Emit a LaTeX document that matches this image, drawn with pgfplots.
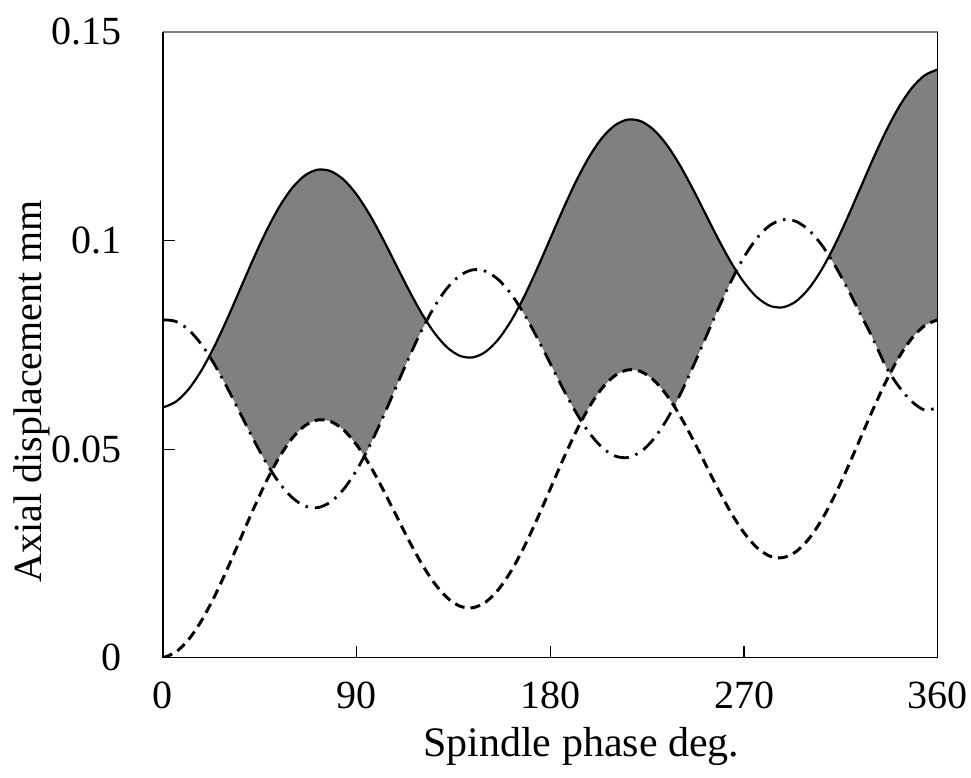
\documentclass[border=0pt]{standalone}
\usepackage{fontspec}
\setmainfont{Liberation Serif}
\usepackage{pgfplots}
\usepackage{pgfplotstable}
\pgfplotsset{compat=1.18}
\usepgfplotslibrary{fillbetween}
\pgfplotstableread{
x D S DD
0 0 0.06 0.081
6 0.00137 0.06137 0.08063
12 0.00442 0.06442 0.07858
18 0.00897 0.06897 0.07503
24 0.01475 0.07475 0.07025
30 0.0214 0.0814 0.0646
36 0.0285 0.0885 0.0585
42 0.0356 0.0956 0.0524
48 0.04225 0.10225 0.04675
54 0.04803 0.10803 0.04197
60 0.05258 0.11258 0.03842
66 0.05563 0.11563 0.03637
72 0.057 0.117 0.036
78 0.05663 0.11663 0.03737
84 0.05458 0.11458 0.04042
90 0.05103 0.11103 0.04497
96 0.04625 0.10625 0.05075
102 0.0406 0.1006 0.0574
108 0.0345 0.0945 0.0645
114 0.0284 0.0884 0.0716
120 0.02275 0.08275 0.07825
126 0.01797 0.07797 0.08403
132 0.01442 0.07442 0.08858
138 0.01237 0.07237 0.09163
144 0.012 0.072 0.093
150 0.01337 0.07337 0.09263
156 0.01642 0.07642 0.09058
162 0.02097 0.08097 0.08703
168 0.02675 0.08675 0.08225
174 0.0334 0.0934 0.0766
180 0.0405 0.1005 0.0705
186 0.0476 0.1076 0.0644
192 0.05425 0.11425 0.05875
198 0.06003 0.12003 0.05397
204 0.06458 0.12458 0.05042
210 0.06763 0.12763 0.04837
216 0.069 0.129 0.048
222 0.06863 0.12863 0.04937
228 0.06658 0.12658 0.05242
234 0.06303 0.12303 0.05697
240 0.05825 0.11825 0.06275
246 0.0526 0.1126 0.0694
252 0.0465 0.1065 0.0765
258 0.0404 0.1004 0.0836
264 0.03475 0.09475 0.09025
270 0.02997 0.08997 0.09603
276 0.02642 0.08642 0.10058
282 0.02437 0.08437 0.10363
288 0.024 0.084 0.105
294 0.02537 0.08537 0.10463
300 0.02842 0.08842 0.10258
306 0.03297 0.09297 0.09903
312 0.03875 0.09875 0.09425
318 0.0454 0.1054 0.0886
324 0.0525 0.1125 0.0825
330 0.0596 0.1196 0.0764
336 0.06625 0.12625 0.06975
342 0.07203 0.13203 0.06497
348 0.07658 0.13658 0.06142
354 0.07963 0.13963 0.05937
360 0.081 0.141 0.06
}\datatable
\begin{document}
\begin{tikzpicture}
\begin{axis}[
  scale only axis,
  width=775pt, height=626pt,
  xmin=0, xmax=360, ymin=0, ymax=0.15,
  axis line style={draw=none},
  xtick={0,90,180,270,360},
  xticklabels={0,90,180,270,360},
  ytick={0,0.05,0.1},
  yticklabels={0,0.05,0.1},
  extra y ticks={0.15},
  extra y tick labels={0.15},
  extra y tick style={major tick length=0pt},
  xtick pos=bottom, ytick pos=left,
  tick align=inside,
  major tick length=12pt,
  every tick/.style={black, line width=1.2pt},
  /pgf/number format/assume math mode=true,
  ticklabel style={font=\fontsize{40}{48}\selectfont},
  xticklabel style={yshift=-21pt},
  yticklabel style={xshift=-38pt},
  xlabel={Spindle phase deg.},
  ylabel={Axial displacement mm},
  xlabel style={font=\fontsize{42}{50}\selectfont, at={(axis description cs:0.54,-0.158)}, anchor=base},
  ylabel style={font=\fontsize{40}{48}\selectfont, at={(axis description cs:-0.169,0.4257)}, anchor=center},
]
\addplot[name path=S, black, line width=2.2pt, smooth] table[x=x,y=S]{\datatable};
\addplot[name path=D, black, line width=3pt, dash pattern=on 10pt off 6pt, smooth] table[x=x,y=D]{\datatable};
\addplot[name path=DD, black, line width=2.8pt, dash pattern=on 15pt off 7pt on 2.5pt off 7pt, smooth] table[x=x,y=DD]{\datatable};
\addplot[fill=gray, draw=none] fill between[of=S and DD, soft clip={domain=21.6:50.6}];
\addplot[fill=gray, draw=none] fill between[of=S and D, soft clip={domain=50.3:93.8}];
\addplot[fill=gray, draw=none] fill between[of=S and DD, soft clip={domain=93.5:122.4}];
\addplot[fill=gray, draw=none] fill between[of=S and DD, soft clip={domain=165.6:194.6}];
\addplot[fill=gray, draw=none] fill between[of=S and D, soft clip={domain=194.3:237.8}];
\addplot[fill=gray, draw=none] fill between[of=S and DD, soft clip={domain=237.5:266.4}];
\addplot[fill=gray, draw=none] fill between[of=S and DD, soft clip={domain=309.6:338.6}];
\addplot[fill=gray, draw=none] fill between[of=S and D, soft clip={domain=338.3:360}];
\end{axis}
\draw[gray, line width=2pt] (current axis.north west) -- (current axis.north east);
\draw[black, line width=1.4pt] (current axis.south west) -- (current axis.south east);
\draw[black, line width=1.6pt] (current axis.south east) -- (current axis.north east);
\draw[black, line width=2pt] (current axis.south west) -- (current axis.north west);
\path[use as bounding box] (-163pt,-120pt) rectangle (808pt,658pt);
\end{tikzpicture}
\end{document}
